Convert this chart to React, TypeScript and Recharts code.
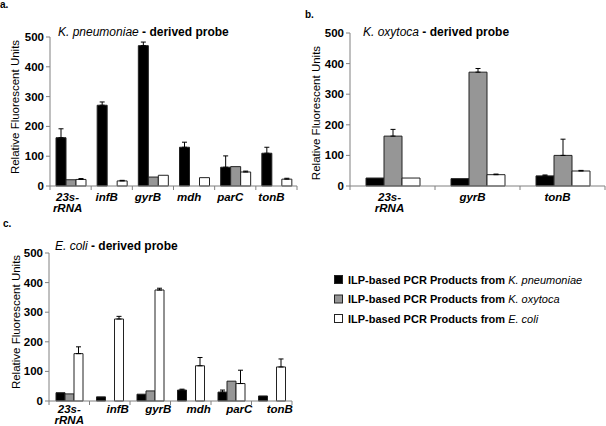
import React from 'react';
import { BarChart, Bar, XAxis, YAxis, ErrorBar } from 'recharts';

// ---- data ----
const catsA = ['23s-rRNA', 'infB', 'gyrB', 'mdh', 'parC', 'tonB'];
const aKpn = [162, 271, 471, 130, 63, 110];
const aKpnErr = [30, 11, 12, 17, 38, 20];
const aKox = [21, 0, 30, 0, 65, 0];
const aKoxErr = [null, null, null, null, null, null];
const aEco = [22, 17, 36, 28, 47, 23];
const aEcoErr = [3, 2, null, null, 3, 3];

const catsB = ['23s-rRNA', 'gyrB', 'tonB'];
const bKpn = [26, 24, 33];
const bKpnErr = [null, null, 3];
const bKox = [163, 372, 100];
const bKoxErr = [22, 12, 53];
const bEco = [26, 37, 49];
const bEcoErr = [null, 2, 2];

const catsC = ['23s-rRNA', 'infB', 'gyrB', 'mdh', 'parC', 'tonB'];
const cKpn = [28, 14, 23, 37, 30, 17];
const cKpnErr = [null, null, null, 3, 7, null];
const cKox = [24, 0, 34, 0, 67, 0];
const cKoxErr = [null, null, null, null, null, null];
const cEco = [160, 277, 375, 119, 59, 115];
const cEcoErr = [23, 9, 6, 28, 45, 27];

const yTicks = [0, 100, 200, 300, 400, 500];

const titleA = { species: 'K. pneumoniae', rest: ' - derived probe' };
const titleB = { species: 'K. oxytoca', rest: ' - derived probe' };
const titleC = { species: 'E. coli', rest: ' - derived probe' };
const yLabel = 'Relative Fluorescent Units';
const legendItems = [
  { prefix: 'ILP-based PCR Products from ', species: 'K. pneumoniae' },
  { prefix: 'ILP-based PCR Products from ', species: 'K. oxytoca' },
  { prefix: 'ILP-based PCR Products from ', species: 'E. coli' },
];

// ---- styles ----
const FONT = 'Arial, "Liberation Sans", Helvetica, sans-serif';
const AXIS = '#808080';
const C_KPN = '#000000';
const C_KOX = '#969696';
const C_ECO = '#ffffff';
const BAR_STROKE = '#222222';

const wrapErr = (e: number | null) => (e == null ? null : [0, e]);

function build(cats: string[], kp: number[], kpE: (number | null)[], ko: number[], koE: (number | null)[], ec: number[], ecE: (number | null)[]) {
  return cats.map((c, i) => ({
    cat: c,
    kp: kp[i], kpE: wrapErr(kpE[i]),
    ko: ko[i], koE: wrapErr(koE[i]),
    ec: ec[i], ecE: wrapErr(ecE[i]),
  }));
}

const dataA = build(catsA, aKpn, aKpnErr, aKox, aKoxErr, aEco, aEcoErr);
const dataB = build(catsB, bKpn, bKpnErr, bKox, bKoxErr, bEco, bEcoErr);
const dataC = build(catsC, cKpn, cKpnErr, cKox, cKoxErr, cEco, cEcoErr);

const CatTick = (props: any) => {
  const { x, y, payload, visibleTicksCount, index, width, shift, multiShift, base } = props;
  const half = payload && payload.offset != null ? payload.offset : width / visibleTicksCount / 2;
  const val = String(payload.value);
  const hy = val.indexOf('-');
  const lines = hy >= 0 ? [val.slice(0, hy + 1), val.slice(hy + 1)] : [val];
  const dx = lines.length > 1 ? multiShift : shift;
  return (
    <g>
      <line x1={x - half} x2={x - half} y1={y} y2={y + 4} stroke={AXIS} />
      {index === visibleTicksCount - 1 && (
        <line x1={x + half} x2={x + half} y1={y} y2={y + 4} stroke={AXIS} />
      )}
      <text x={x + dx} y={y + base} textAnchor="middle" fontFamily={FONT}
        fontSize={11.5} fontWeight="bold" fontStyle="italic" fill="#000">
        {lines.map((l, i) => (
          <tspan key={i} x={x + dx} dy={i === 0 ? 0 : 11}>{l}</tspan>
        ))}
      </text>
    </g>
  );
};

function Panel({ data, width, height, margin, yWidth, xHeight, barSize, shift, multiShift, base }: any) {
  return (
    <BarChart width={width} height={height} data={data} margin={margin} barGap={0} style={{ overflow: 'visible' }}>
      <XAxis dataKey="cat" interval={0} tickLine={false} tickSize={0} tickMargin={0} height={xHeight}
        axisLine={{ stroke: AXIS }}
        tick={(p: any) => <CatTick {...p} shift={shift} multiShift={multiShift} base={base} />} />
      <YAxis domain={[0, 500]} ticks={yTicks} interval={0} width={yWidth} tickSize={4} tickMargin={2}
        axisLine={{ stroke: AXIS }} tickLine={{ stroke: AXIS }}
        tick={{ fill: '#000', fontSize: 11.5, fontWeight: 'bold', fontFamily: FONT }} />
      <Bar dataKey="kp" fill={C_KPN} stroke={BAR_STROKE} barSize={barSize} isAnimationActive={false}>
        <ErrorBar dataKey="kpE" direction="y" width={2.5} stroke="#000" strokeWidth={1} />
      </Bar>
      <Bar dataKey="ko" fill={C_KOX} stroke={BAR_STROKE} barSize={barSize} isAnimationActive={false}>
        <ErrorBar dataKey="koE" direction="y" width={2.5} stroke="#000" strokeWidth={1} />
      </Bar>
      <Bar dataKey="ec" fill={C_ECO} stroke={BAR_STROKE} barSize={barSize} isAnimationActive={false}>
        <ErrorBar dataKey="ecE" direction="y" width={2.5} stroke="#000" strokeWidth={1} />
      </Bar>
    </BarChart>
  );
}

const Title = ({ x, y, t }: any) => (
  <text x={x} y={y} fontFamily={FONT} fontSize={12} fill="#000">
    <tspan fontStyle="italic">{t.species}</tspan>
    <tspan fontWeight="bold">{t.rest}</tspan>
  </text>
);

const YLab = ({ x, y }: any) => (
  <text x={x} y={y} transform={`rotate(-90, ${x}, ${y})`} textAnchor="middle" dominantBaseline="central"
    fontFamily={FONT} fontSize={11.5} fill="#000">{yLabel}</text>
);

const legendFills = [C_KPN, C_KOX, C_ECO];

export default function App() {
  return (
    <div style={{ position: 'absolute', left: 0, top: 0, width: 606, height: 426, background: '#fff', overflow: 'hidden' }}>
      <div style={{ position: 'absolute', left: 0, top: 0 }}>
        <Panel data={dataA} width={300} height={215} margin={{ top: 37, right: 3, left: 0, bottom: 0 }}
          yWidth={50} xHeight={29} barSize={10} shift={-5} multiShift={-3} base={15} />
      </div>
      <div style={{ position: 'absolute', left: 300, top: 0 }}>
        <Panel data={dataB} width={306} height={215} margin={{ top: 33, right: 1, left: 0, bottom: 0 }}
          yWidth={50} xHeight={29} barSize={18} shift={-5} multiShift={-3} base={15} />
      </div>
      <div style={{ position: 'absolute', left: 0, top: 215 }}>
        <Panel data={dataC} width={300} height={211} margin={{ top: 38, right: 8, left: 0, bottom: 0 }}
          yWidth={49} xHeight={25} barSize={9} shift={8} multiShift={0} base={11.5} />
      </div>
      <svg width={606} height={426} style={{ position: 'absolute', left: 0, top: 0, pointerEvents: 'none' }}>
        <text x={0} y={8} fontFamily={FONT} fontSize={10} fontWeight="bold">a.</text>
        <text x={305} y={18} fontFamily={FONT} fontSize={10} fontWeight="bold">b.</text>
        <text x={3} y={227} fontFamily={FONT} fontSize={10} fontWeight="bold">c.</text>
        <Title x={58} y={36} t={titleA} />
        <Title x={363} y={36} t={titleB} />
        <Title x={55} y={249.5} t={titleC} />
        <YLab x={15} y={107} />
        <YLab x={316} y={113} />
        <YLab x={16} y={322} />
        {legendItems.map((it, i) => (
          <g key={i}>
            <rect x={334.5} y={275.5 + i * 19.5} width={8} height={8} fill={legendFills[i]} stroke={BAR_STROKE} />
            <text x={348} y={283.5 + i * 19.5} fontFamily={FONT} fontSize={11} fill="#000">
              <tspan fontWeight="bold">{it.prefix}</tspan>
              <tspan fontStyle="italic">{it.species}</tspan>
            </text>
          </g>
        ))}
      </svg>
    </div>
  );
}
